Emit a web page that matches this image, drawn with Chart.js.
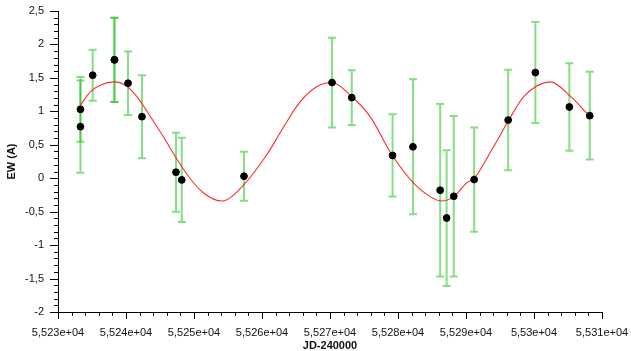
<!DOCTYPE html>
<html>
<head>
<meta charset="utf-8">
<script src="https://cdn.jsdelivr.net/npm/chart.js@4.4.1/dist/chart.umd.min.js"></script>
<style>
html,body{margin:0;padding:0;background:#fff;}
#wrap{width:631px;height:351px;}
</style>
</head>
<body>
<div id="wrap"><canvas id="c" width="631" height="351"></canvas></div>
<script>
// Observations (JD-240000, EW in A, error)
const jd  = [55233.3, 55233.3, 55235.1, 55238.3, 55238.3, 55240.3, 55242.35, 55247.35, 55248.2, 55257.35, 55270.3, 55273.2, 55279.2, 55282.2, 55286.2, 55287.15, 55288.2, 55291.2, 55296.2, 55300.2, 55305.2, 55308.2];
const ew  = [1.03, 0.77, 1.54, 1.77, 1.77, 1.42, 0.92, 0.09, -0.025, 0.03, 1.43, 1.205, 0.34, 0.47, -0.18, -0.595, -0.27, -0.02, 0.87, 1.58, 1.065, 0.935];
const err = [0.485, 0.69, 0.38, 0.63, 0.63, 0.475, 0.62, 0.59, 0.63, 0.365, 0.67, 0.41, 0.615, 1.01, 1.29, 1.015, 1.2, 0.78, 0.75, 0.755, 0.655, 0.655];

// Fitted curve
const fitX = [55233.3, 55234.75, 55236.2, 55238.3, 55239.9, 55241.6, 55243.6, 55245.5, 55247.4, 55249.4, 55251.4, 55254.1, 55257.3, 55260.7, 55263.2, 55265.6, 55268.1, 55270.3, 55273.0, 55275.9, 55279.1, 55282.3, 55284.7, 55286.4, 55288.2, 55290.1, 55291.2, 55294.05, 55296.3, 55298.5, 55302.4, 55305.3, 55308.0];
const fitY = [1.09, 1.29, 1.39, 1.44, 1.39, 1.22, 0.92, 0.62, 0.30, 0.0, -0.22, -0.34, -0.10, 0.35, 0.77, 1.14, 1.37, 1.43, 1.24, 0.92, 0.35, -0.075, -0.275, -0.34, -0.275, -0.07, 0.0, 0.47, 0.87, 1.22, 1.44, 1.23, 0.945];

const xTickLabels = ['5,523e+04','5,524e+04','5,525e+04','5,526e+04','5,527e+04','5,528e+04','5,529e+04','5,53e+04','5,531e+04'];
const yTickLabels = ['-2','-1,5','-1','-0,5','0','0,5','1','1,5','2','2,5'];

const FONT = '"Liberation Sans", Arial, Helvetica, sans-serif';

const errorBars = {
  id: 'errorBars',
  beforeDatasetsDraw(chart) {
    const {ctx, scales:{x, y}} = chart;
    ctx.save();
    ctx.strokeStyle = 'rgba(10,190,10,0.5)';
    ctx.lineWidth = 2;
    for (let i = 0; i < jd.length; i++) {
      const px = x.getPixelForValue(jd[i]);
      const pt = y.getPixelForValue(ew[i] + err[i]);
      const pb = y.getPixelForValue(ew[i] - err[i]);
      ctx.beginPath();
      ctx.moveTo(px, pt); ctx.lineTo(px, pb);
      ctx.moveTo(px - 4, pt); ctx.lineTo(px + 4, pt);
      ctx.moveTo(px - 4, pb); ctx.lineTo(px + 4, pb);
      ctx.stroke();
    }
    ctx.restore();
  }
};

const axisTicks = {
  id: 'axisTicks',
  afterDraw(chart) {
    const {ctx, scales:{x, y}, chartArea} = chart;
    ctx.save();
    ctx.strokeStyle = '#000';
    ctx.lineWidth = 1;
    ctx.beginPath();
    for (let k = 0; k <= 40; k++) {
      const v = x.min + k * 2;
      const px = Math.round(x.getPixelForValue(v)) + 0.5;
      const len = (k % 5 === 0) ? 7 : 4;
      ctx.moveTo(px, chartArea.bottom); ctx.lineTo(px, chartArea.bottom + len);
    }
    for (let k = 0; k <= 45; k++) {
      const v = y.min + k * 0.1;
      const py = Math.round(y.getPixelForValue(v)) + 0.5;
      const len = (k % 5 === 0) ? 8 : 4;
      ctx.moveTo(chartArea.left, py); ctx.lineTo(chartArea.left - len, py);
    }
    ctx.stroke();
    ctx.restore();
  }
};

new Chart(document.getElementById('c'), {
  type: 'scatter',
  data: {
    datasets: [
      {
        label: 'EW',
        data: jd.map((v, i) => ({x: v, y: ew[i]})),
        backgroundColor: '#000',
        borderColor: '#000',
        pointRadius: 3.4,
        pointHoverRadius: 3.4
      },
      {
        label: 'fit',
        data: fitX.map((v, i) => ({x: v, y: fitY[i]})),
        showLine: true,
        borderColor: 'rgba(255,20,20,0.9)',
        borderWidth: 1.1,
        pointRadius: 0,
        cubicInterpolationMode: 'monotone',
        fill: false
      }
    ]
  },
  options: {
    responsive: false,
    animation: false,
    events: [],
    layout: {padding: {top: 11, right: 29, left: 0, bottom: 0}},
    plugins: {legend: {display: false}, tooltip: {enabled: false}},
    scales: {
      x: {
        type: 'linear',
        min: 55230, max: 55310,
        afterFit(s) { s.height = 39; s.paddingLeft = 0; s.paddingRight = 0; },
        grid: {display: false, drawTicks: false},
        border: {display: true, color: '#000', width: 1},
        ticks: {
          stepSize: 10, padding: 14, color: '#111', maxRotation: 0, autoSkip: false,
          font: {family: FONT, size: 11},
          callback: (v, i) => xTickLabels[i]
        },
        title: {display: true, text: 'JD-240000', color: '#111',
          font: {family: FONT, size: 11, weight: 'bold', lineHeight: 1.0}, padding: {top: 0, bottom: 0}}
      },
      y: {
        type: 'linear',
        min: -2, max: 2.5,
        afterFit(s) { s.width = 58; s.paddingTop = 0; s.paddingBottom = 0; },
        grid: {display: false, drawTicks: false},
        border: {display: true, color: '#000', width: 1},
        ticks: {
          stepSize: 0.5, padding: 14, color: '#111',
          font: {family: FONT, size: 11},
          callback: (v, i) => yTickLabels[i]
        },
        title: {display: true, text: 'EW (A)', color: '#111',
          font: {family: FONT, size: 11, weight: 'bold', lineHeight: 1.0}, padding: {top: 6, bottom: 0}}
      }
    }
  },
  plugins: [errorBars, axisTicks]
});
</script>
</body>
</html>
